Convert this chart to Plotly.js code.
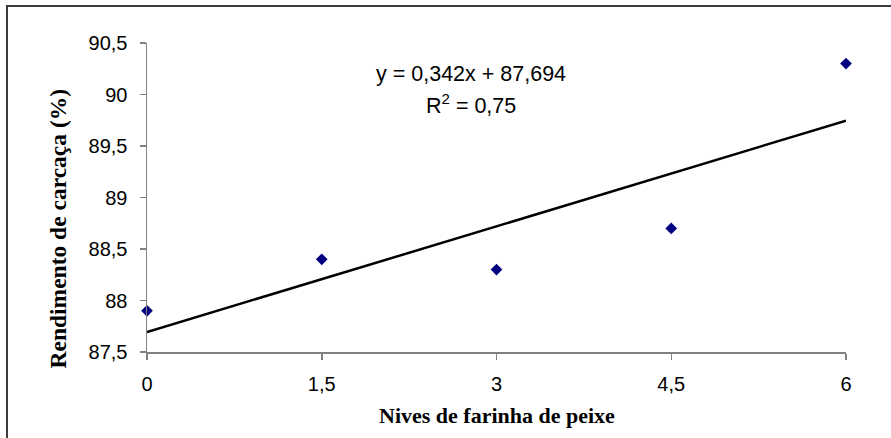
<!DOCTYPE html>
<html>
<head>
<meta charset="utf-8">
<script src="https://cdn.plot.ly/plotly-3.0.1.min.js"></script>
<style>
  html, body { margin: 0; padding: 0; background: #fff; }
  #chart { width: 891px; height: 438px; }
</style>
</head>
<body>
<div id="chart"></div>
<script>
// Data
const niveis = [0, 1.5, 3, 4.5, 6];
const rendimento = [87.9, 88.4, 88.3, 88.7, 90.3];
const trendSlope = 0.342;
const trendIntercept = 87.694;
const xTickVals = [0, 1.5, 3, 4.5, 6];
const xTickText = ['0', '1,5', '3', '4,5', '6'];
const yTickVals = [87.5, 88, 88.5, 89, 89.5, 90, 90.5];
const yTickText = ['87,5', '88', '88,5', '89', '89,5', '90', '90,5'];
const eqText = 'y = 0,342x + 87,694';
const r2Text = 'R<sup>2</sup> = 0,75';
const xTitle = 'Nives de farinha de peixe';
const yTitle = 'Rendimento de carcaça (%)';

const trendX = [niveis[0], niveis[niveis.length - 1]];
const trendY = trendX.map(x => trendSlope * x + trendIntercept);

const sans = 'Liberation Sans, Arial, sans-serif';
const serif = 'Liberation Serif, Times New Roman, serif';

const traces = [
  {
    x: trendX, y: trendY, type: 'scatter', mode: 'lines',
    line: { color: '#000000', width: 2.5 },
    hoverinfo: 'skip', showlegend: false, cliponaxis: false
  },
  {
    x: niveis, y: rendimento, type: 'scatter', mode: 'markers',
    marker: { symbol: 'diamond', size: 9, color: '#000080' },
    showlegend: false, cliponaxis: false
  }
];

const layout = {
  width: 891, height: 438,
  margin: { l: 147, r: 45, t: 43, b: 86, pad: 0 },
  paper_bgcolor: '#ffffff', plot_bgcolor: '#ffffff',
  showlegend: false,
  font: { family: sans, color: '#000000', size: 20 },
  xaxis: {
    range: [0, 6], tickvals: xTickVals, ticktext: xTickText,
    showgrid: false, zeroline: false, showline: true,
    linecolor: '#808080', linewidth: 1.5,
    ticks: 'outside', ticklen: 6, tickwidth: 1.5, tickcolor: '#808080',
    ticklabelstandoff: 7,
    tickfont: { family: sans, size: 20, color: '#000000' }
  },
  yaxis: {
    range: [87.5, 90.5], tickvals: yTickVals, ticktext: yTickText,
    showgrid: false, zeroline: false, showline: true,
    linecolor: '#808080', linewidth: 1.5,
    ticks: 'outside', ticklen: 6, tickwidth: 1.5, tickcolor: '#808080',
    ticklabelstandoff: 8,
    tickfont: { family: sans, size: 20, color: '#000000' }
  },
  annotations: [
    { text: eqText, xref: 'x', yref: 'y', x: 2.785, y: 90.2, xanchor: 'center', yanchor: 'middle',
      showarrow: false, font: { family: sans, size: 21.5, color: '#000000' } },
    { text: r2Text, xref: 'x', yref: 'y', x: 2.785, y: 89.91, xanchor: 'center', yanchor: 'middle',
      showarrow: false, font: { family: sans, size: 21.5, color: '#000000' } },
    { text: xTitle, xref: 'paper', yref: 'paper', x: 0.5, y: (352 - 415) / 309, xanchor: 'center', yanchor: 'middle',
      showarrow: false, font: { family: serif, size: 22, color: '#000000', weight: 'bold' } },
    { text: yTitle, xref: 'paper', yref: 'paper', x: (57 - 147) / 699, y: (352 - 228.5) / 309, xanchor: 'center', yanchor: 'middle',
      textangle: -90, showarrow: false, font: { family: serif, size: 23.5, color: '#000000', weight: 'bold' } }
  ],
  shapes: [
    { type: 'path', xref: 'paper', yref: 'paper',
      path: 'M ' + ((7 - 147) / 699) + ',' + ((352 - 460) / 309) + ' L ' + ((7 - 147) / 699) + ',' + ((352 - 6) / 309) + ' L ' + ((900 - 147) / 699) + ',' + ((352 - 6) / 309),
      line: { color: '#3a3a3a', width: 2 } }
  ]
};

Plotly.newPlot('chart', traces, layout, { displayModeBar: false, staticPlot: true });
</script>
</body>
</html>
